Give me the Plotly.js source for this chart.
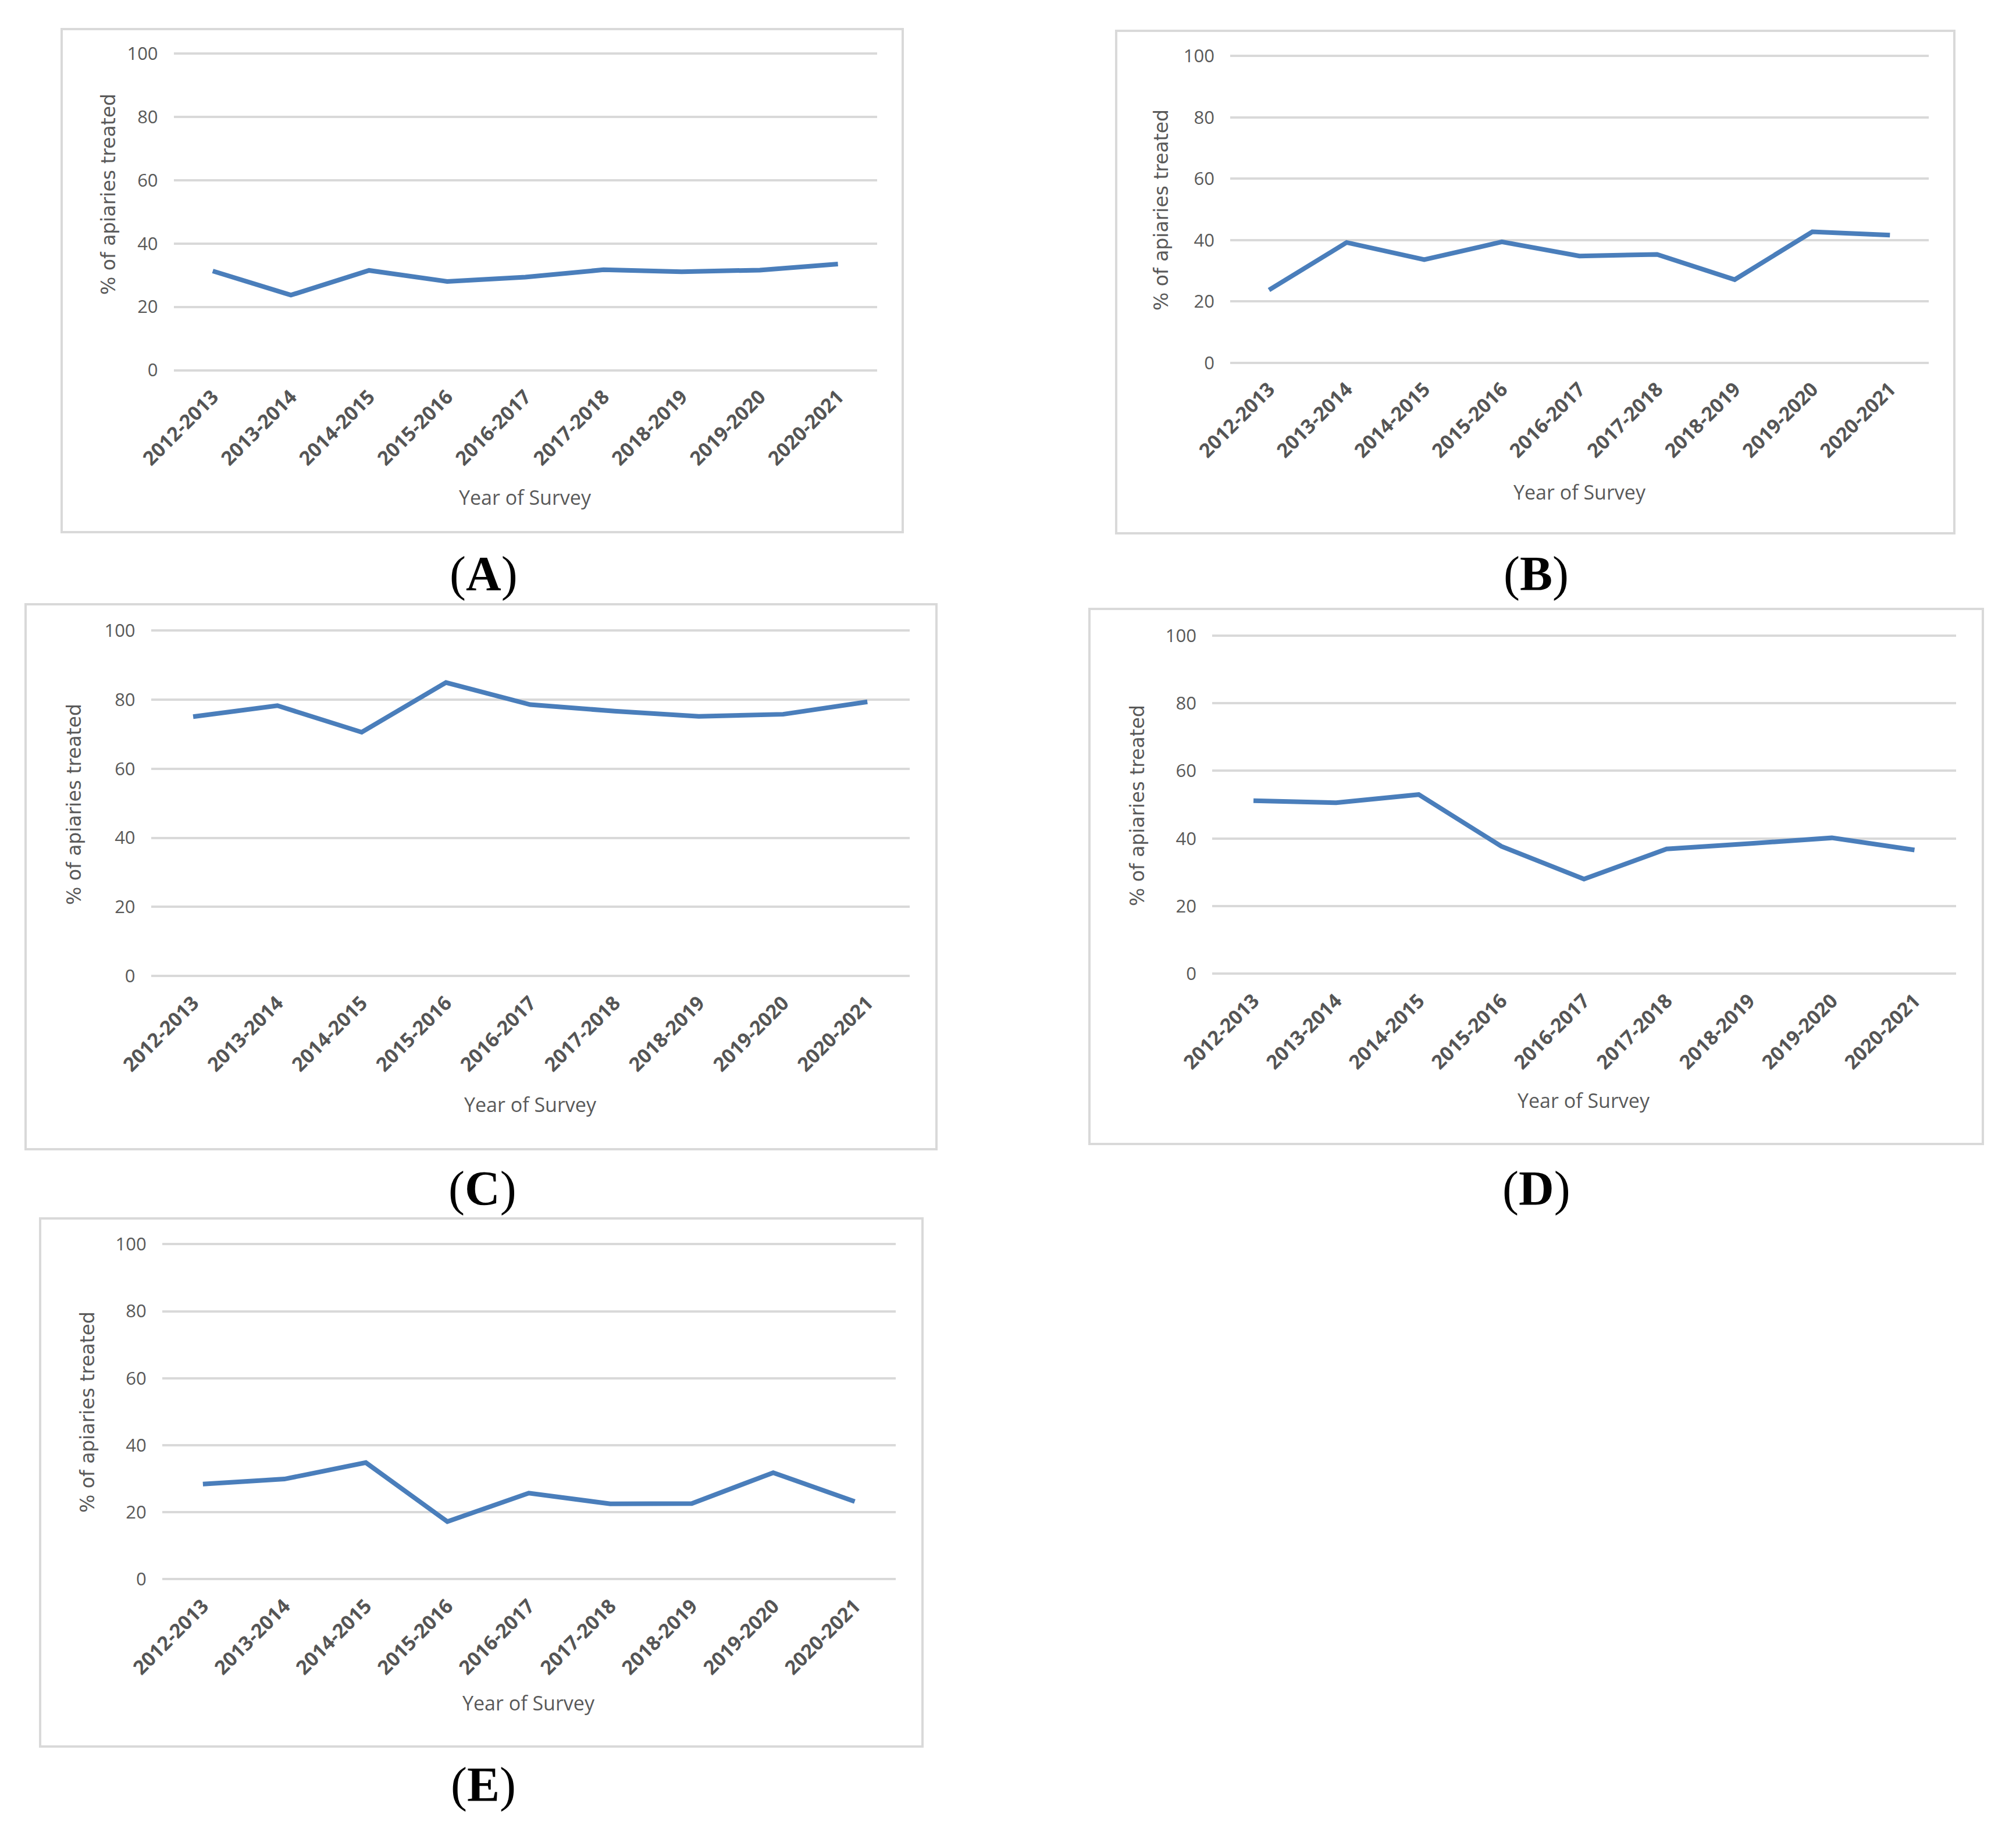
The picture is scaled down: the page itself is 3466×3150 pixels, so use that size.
<!DOCTYPE html>
<html>
<head>
<meta charset="utf-8">
<script src="https://cdn.plot.ly/plotly-3.0.1.min.js"></script>
<style>
html,body{margin:0;padding:0;background:#fff;}
#chart{width:3466px;height:3150px;}
</style>
</head>
<body>
<div id="chart"></div>
<script>
// ---- data ----
const years = ['2012-2013','2013-2014','2014-2015','2015-2016','2016-2017','2017-2018','2018-2019','2019-2020','2020-2021'];
const seriesA = [31.3, 23.7, 31.5, 28.0, 29.4, 31.7, 31.1, 31.6, 33.5];
const seriesB = [23.7, 39.2, 33.6, 39.4, 34.8, 35.3, 27.1, 42.7, 41.6];
const seriesC = [75.1, 78.3, 70.6, 85.0, 78.6, 76.7, 75.2, 75.8, 79.4];
const seriesD = [51.2, 50.6, 53.0, 37.7, 28.0, 36.9, 38.5, 40.2, 36.6];
const seriesE = [28.4, 29.9, 34.8, 17.2, 25.7, 22.5, 22.6, 31.8, 23.2];
const panelLabels = ['A','B','C','D','E'];
const yTickVals = [0, 20, 40, 60, 80, 100];
const yTitle = '% of apiaries treated';
const xTitle = 'Year of Survey';

// ---- layout geometry (pixels) ----
const W = 3466, H = 3150;
const panels = [
  {data: seriesA, frame:[106,50,1552,915],  plot:[298.6,91.9,1507.8,636.5],  yt:[186,334],   xt:[903,855],   lab:[831,987]},
  {data: seriesB, frame:[1919,53,3360,917], plot:[2115,96.3,3316,623.7],     yt:[1996,361],  xt:[2716,846],  lab:[2641,987]},
  {data: seriesC, frame:[44,1039,1610,1976],plot:[259.6,1084.5,1563.7,1678], yt:[127,1383],  xt:[912,1899],  lab:[829,2044]},
  {data: seriesD, frame:[1873,1047,3409,1967],plot:[2084,1092.9,3362.5,1674.4], yt:[1955,1385], xt:[2723,1892], lab:[2641,2044]},
  {data: seriesE, frame:[69,2095,1586,3003],plot:[278.8,2139.4,1539.5,2715.3], yt:[150,2428], xt:[909,2928],  lab:[831,3069]}
];

const px = v => v / W;
const py = v => 1 - v / H;
const gray = '#595959';
const gridCol = '#d9d9d9';
const pad = 1.5; // value units of padding so edge gridlines are drawn

const traces = [];
const layout = {
  width: W, height: H,
  margin: {l:0, r:0, t:0, b:0},
  paper_bgcolor: '#ffffff',
  plot_bgcolor: 'rgba(0,0,0,0)',
  showlegend: false,
  shapes: [],
  annotations: []
};

panels.forEach((p, i) => {
  const n = i === 0 ? '' : String(i + 1);
  const unitPx = (p.plot[3] - p.plot[1]) / 100;
  const yTop = p.plot[1] - pad * unitPx;
  const yBot = p.plot[3] + pad * unitPx;
  traces.push({
    type: 'scatter', mode: 'lines',
    x: years, y: p.data,
    xaxis: 'x' + n, yaxis: 'y' + n,
    line: {color: '#4a7ebb', width: 8, shape: 'linear'},
    hoverinfo: 'x+y'
  });
  layout['xaxis' + n] = {
    domain: [px(p.plot[0]), px(p.plot[2])],
    anchor: 'y' + n,
    type: 'category',
    range: [-0.5, 8.5],
    showgrid: false, zeroline: false, showline: false,
    ticks: '', tickangle: -45,
    ticklabelstandoff: 10,
    tickfont: {family: 'Open Sans', size: 34, color: '#555555', weight: 700},
    fixedrange: true
  };
  layout['yaxis' + n] = {
    domain: [py(yBot), py(yTop)],
    anchor: 'x' + n,
    range: [-pad, 100 + pad],
    tickvals: yTickVals,
    showgrid: true, gridcolor: gridCol, gridwidth: 4,
    zeroline: false, showline: false,
    ticks: '',
    ticklabelstandoff: 26,
    tickfont: {family: 'Open Sans', size: 31, color: gray},
    fixedrange: true
  };
  layout.shapes.push({
    type: 'rect', xref: 'paper', yref: 'paper',
    x0: px(p.frame[0]), x1: px(p.frame[2]), y0: py(p.frame[3]), y1: py(p.frame[1]),
    line: {color: gridCol, width: 4}, fillcolor: 'rgba(0,0,0,0)', layer: 'below'
  });
  layout.annotations.push({
    xref: 'paper', yref: 'paper', x: px(p.yt[0]), y: py(p.yt[1]),
    text: yTitle, textangle: -90, showarrow: false,
    xanchor: 'center', yanchor: 'middle',
    font: {family: 'DejaVu Sans', size: 33, color: gray}
  });
  layout.annotations.push({
    xref: 'paper', yref: 'paper', x: px(p.xt[0]), y: py(p.xt[1]),
    text: xTitle, showarrow: false,
    xanchor: 'center', yanchor: 'middle',
    font: {family: 'Open Sans', size: 34, color: gray}
  });
  layout.annotations.push({
    xref: 'paper', yref: 'paper', x: px(p.lab[0]), y: py(p.lab[1]),
    text: '(<b>' + panelLabels[i] + '</b>)', showarrow: false,
    xanchor: 'center', yanchor: 'middle',
    font: {family: 'Liberation Serif', size: 84, color: '#000000', weight: 400}
  });
});

Plotly.newPlot('chart', traces, layout, {displayModeBar: false, staticPlot: true});
</script>
</body>
</html>
